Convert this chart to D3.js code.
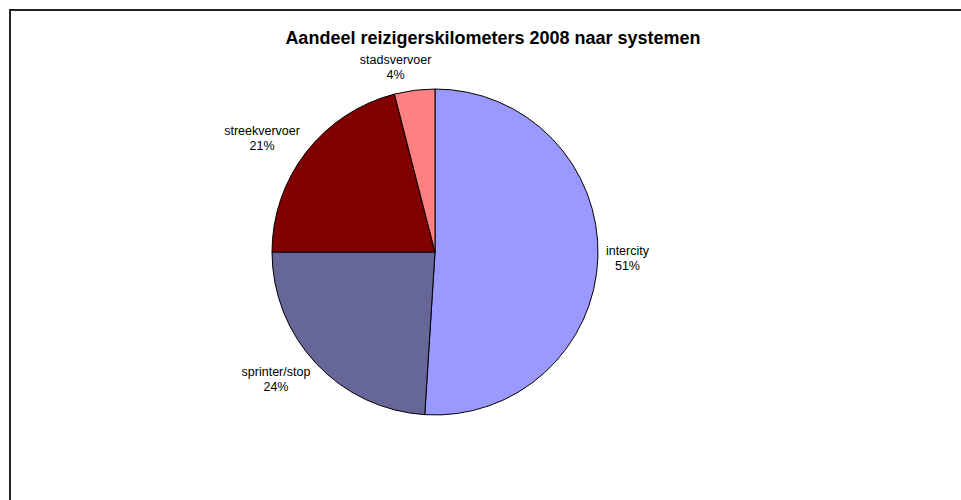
<!DOCTYPE html>
<html>
<head>
<meta charset="utf-8">
<script src="https://cdn.jsdelivr.net/npm/d3@7"></script>
<style>
  body { margin: 0; background: #fff; }
  text { font-family: "Liberation Sans", Arial, sans-serif; }
</style>
</head>
<body>
<div id="chart"></div>
<script>
var categories = ["intercity", "sprinter/stop", "streekvervoer", "stadsvervoer"];
var shares = [51, 24, 21, 4];
var colors = ["#9999ff", "#666699", "#800000", "#ff8080"];
var title = "Aandeel reizigerskilometers 2008 naar systemen";

var width = 961, height = 500;
var cx = 435, cy = 252, radius = 163;

var svg = d3.select("#chart").append("svg")
    .attr("width", width)
    .attr("height", height);

// chart area frame (runs off the right and bottom edge)
svg.append("rect")
    .attr("x", 10).attr("y", 10)
    .attr("width", 1000).attr("height", 600)
    .attr("fill", "#fff")
    .attr("stroke", "#222")
    .attr("stroke-width", 2);

svg.append("text")
    .attr("x", 493).attr("y", 44)
    .attr("text-anchor", "middle")
    .style("font-size", "18px")
    .style("font-weight", "bold")
    .text(title);

var data = categories.map(function(c, i) { return { name: c, value: shares[i], color: colors[i] }; });

var pie = d3.pie().sort(null).value(function(d) { return d.value; });
var arc = d3.arc().innerRadius(0).outerRadius(radius);

var g = svg.append("g").attr("transform", "translate(" + cx + "," + cy + ")");

var arcs = pie(data);

g.selectAll("path.slice")
    .data(arcs)
  .enter().append("path")
    .attr("class", "slice")
    .attr("d", arc)
    .attr("fill", function(d) { return d.data.color; })
    .attr("stroke", "#000")
    .attr("stroke-width", 1);

// labels outside the pie, pushed clear of the edge by their own box size
var labelR = radius + 8;
var labels = g.selectAll("g.label")
    .data(arcs)
  .enter().append("g")
    .attr("class", "label");

labels.each(function(d) {
  var a = (d.startAngle + d.endAngle) / 2;
  var sel = d3.select(this);
  var t1 = sel.append("text").attr("text-anchor", "middle").style("font-size", "12.5px").attr("fill", "#000")
      .text(d.data.name);
  var w = t1.node().getComputedTextLength();
  var h = 30;
  var sx = Math.max(-1, Math.min(1, Math.sin(a) * 4));
  var x = Math.sin(a) * labelR + sx * w / 2;
  var y = -Math.cos(a) * labelR - Math.cos(a) * h / 2;
  t1.attr("x", x).attr("y", y - 3);
  sel.append("text").attr("text-anchor", "middle").style("font-size", "12.5px").attr("fill", "#000")
      .attr("x", x).attr("y", y + 12)
      .text(d.data.value + "%");
});
</script>
</body>
</html>
